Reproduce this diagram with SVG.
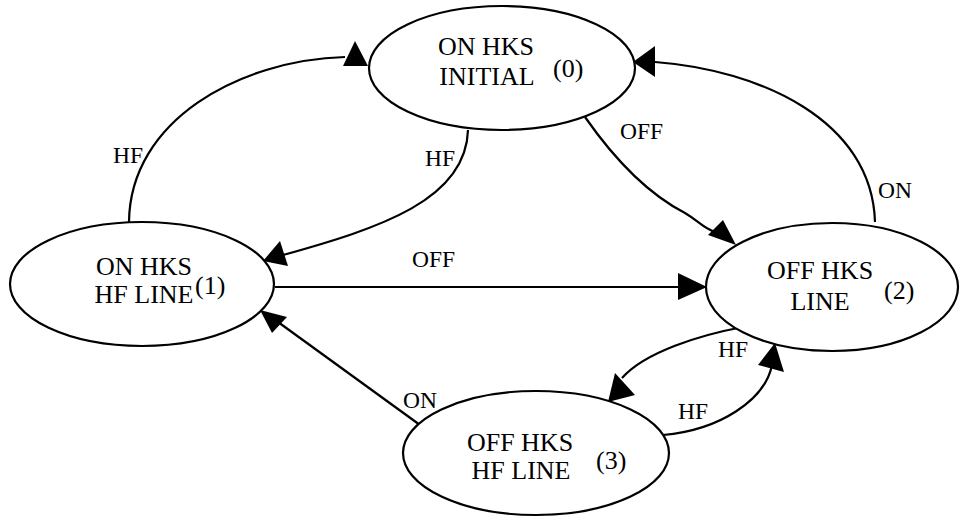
<svg xmlns="http://www.w3.org/2000/svg" width="960" height="519" viewBox="0 0 960 519">
<style>
  .node ellipse { fill: #fff; stroke: #000; stroke-width: 2.2; }
  .node text { font-family: 'Liberation Serif', Tinos, 'Times New Roman', 'DejaVu Serif', serif; font-size: 26px; fill: #000; }
  .node text.c { text-anchor: middle; }
  .edges path, .edges line { fill: none; stroke: #000; stroke-width: 2.2; }
  .edges polygon { fill: #000; stroke: none; }
  .edges text { font-family: 'Liberation Serif', Tinos, 'Times New Roman', 'DejaVu Serif', serif; font-size: 23.5px; fill: #000; }
</style>
<rect width="960" height="519" fill="#fff"/>
<g id="edges" class="edges">
  <!-- 1 -> 0 HF -->
  <path d="M129,222 C130,120 240,60 345,57"/>
  <polygon points="355,41 343,66 368,66"/>
  <text x="113" y="163">HF</text>
  <!-- 0 -> 1 HF -->
  <path d="M468,130 C466,200 380,228 283,255"/>
  <polygon points="263,261 280,241 288,266"/>
  <text x="425" y="166">HF</text>
  <!-- 0 -> 2 OFF -->
  <path d="M585,117 C615,160 650,195 685,213 C700,222 703,228 715,232"/>
  <polygon points="736,245 723,220 708,235"/>
  <text x="620" y="139">OFF</text>
  <!-- 2 -> 0 ON -->
  <path d="M875,222 C872,120 760,70 655,62"/>
  <polygon points="633,62 655,46 655,77"/>
  <text x="878" y="198">ON</text>
  <!-- 1 -> 2 OFF -->
  <line x1="275" y1="287" x2="680" y2="287"/>
  <polygon points="707,287 678,273 678,300"/>
  <text x="412" y="267">OFF</text>
  <!-- 2 -> 3 HF -->
  <path d="M743,327 C700,335 645,352 622,378"/>
  <polygon points="608,402 615,373 635,395"/>
  <text x="718" y="357">HF</text>
  <!-- 3 -> 2 HF -->
  <path d="M663,435 C720,430 765,400 772,365"/>
  <polygon points="775,343 758,365 784,372"/>
  <text x="678" y="419">HF</text>
  <!-- 3 -> 1 ON -->
  <line x1="420" y1="425" x2="278" y2="322"/>
  <polygon points="260,310 272,333 287,317"/>
  <text x="403" y="408">ON</text>
</g>
<g id="node0" class="node">
  <ellipse cx="502" cy="68" rx="133" ry="62"/>
  <text class="c" x="486" y="55">ON HKS</text>
  <text class="c" x="487" y="85">INITIAL</text>
  <text x="553" y="77">(0)</text>
</g>
<g id="node1" class="node">
  <ellipse cx="142" cy="284" rx="132" ry="62"/>
  <text class="c" x="144" y="275">ON HKS</text>
  <text class="c" x="144" y="303">HF LINE</text>
  <text x="195" y="294">(1)</text>
</g>
<g id="node2" class="node">
  <ellipse cx="832" cy="287" rx="126" ry="64"/>
  <text class="c" x="820" y="279">OFF HKS</text>
  <text class="c" x="820" y="310">LINE</text>
  <text x="884" y="299">(2)</text>
</g>
<g id="node3" class="node">
  <ellipse cx="536" cy="453" rx="133" ry="62"/>
  <text class="c" x="520" y="451">OFF HKS</text>
  <text class="c" x="521" y="479">HF LINE</text>
  <text x="596" y="469">(3)</text>
</g>
</svg>
